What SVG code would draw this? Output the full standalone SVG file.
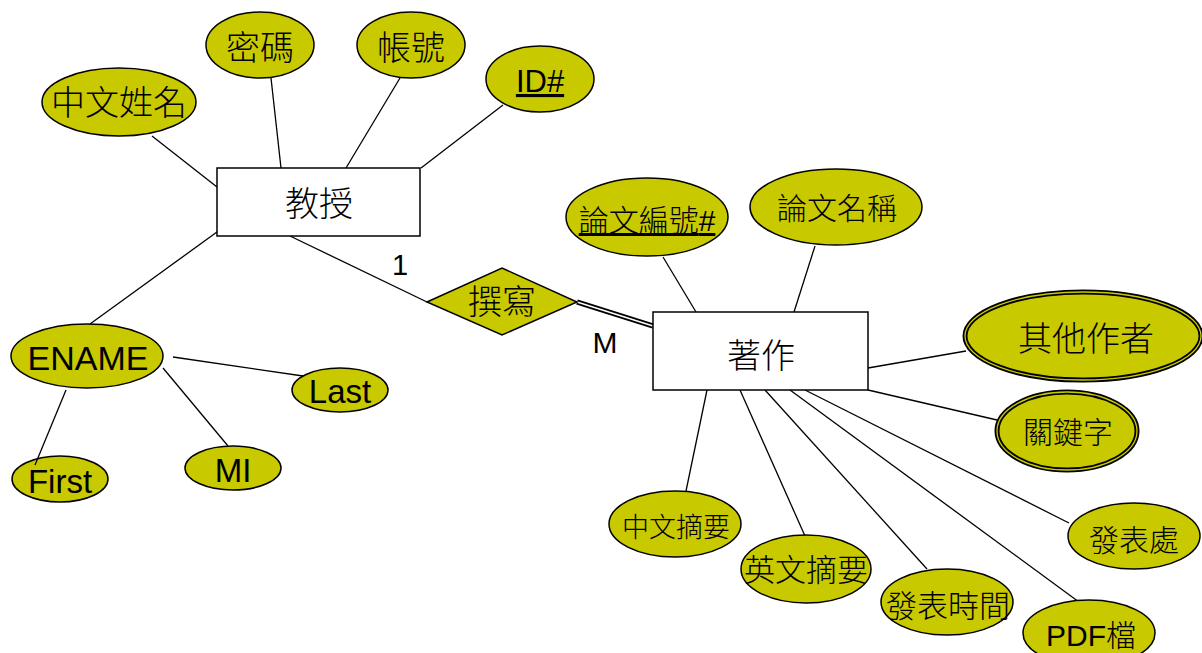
<svg xmlns="http://www.w3.org/2000/svg" width="1202" height="653" viewBox="0 0 1202 653">
<style>
.attr{fill:#c9c900;stroke:#000;stroke-width:1.5}
.ent{fill:#fff;stroke:#000;stroke-width:1.5}
.ln{stroke:#000;stroke-width:1.3;fill:none}
.cj{font-family:"Noto Sans CJK TC","Noto Sans CJK SC",sans-serif;font-weight:300;fill:#000;text-anchor:middle}
.la{font-family:"Liberation Sans",Arial,sans-serif;fill:#000;text-anchor:middle}
.dbl{fill:#c9c900;stroke:#000;stroke-width:5}
.dbli{fill:none;stroke:#c9c900;stroke-width:1.3}
</style>
<rect width="1202" height="653" fill="#fff"/>
<g id="connectors">
<line class="ln" x1="152" y1="136" x2="217" y2="187"/>
<line class="ln" x1="271" y1="78" x2="281" y2="168"/>
<line class="ln" x1="400" y1="78" x2="346" y2="168"/>
<line class="ln" x1="503" y1="105" x2="421" y2="168"/>
<line class="ln" x1="228" y1="224" x2="90" y2="324"/>
<line class="ln" x1="290" y1="236" x2="427" y2="302"/>
<line x1="577" y1="302" x2="653" y2="326" stroke="#000" stroke-width="5"/>
<line x1="577" y1="302" x2="653" y2="326" stroke="#fff" stroke-width="1.4"/>
<line class="ln" x1="663" y1="257" x2="696" y2="312"/>
<line class="ln" x1="815" y1="246" x2="794" y2="312"/>
<line class="ln" x1="868" y1="368" x2="966" y2="351"/>
<line class="ln" x1="868" y1="390" x2="997" y2="420"/>
<line class="ln" x1="707" y1="390" x2="686" y2="491"/>
<line class="ln" x1="740" y1="390" x2="805" y2="536"/>
<line class="ln" x1="765" y1="390" x2="927" y2="569"/>
<line class="ln" x1="790" y1="390" x2="1079" y2="602"/>
<line class="ln" x1="805" y1="390" x2="1069" y2="523"/>
<line class="ln" x1="173" y1="357" x2="303" y2="376"/>
<line class="ln" x1="163" y1="368" x2="228" y2="446"/>
</g>
<g id="n-zhongwen"><ellipse class="attr" cx="119" cy="102" rx="77" ry="34"/><text class="cj" x="119" y="115" font-size="34">中文姓名</text></g>
<g id="n-mima"><ellipse class="attr" cx="260" cy="45" rx="54" ry="33"/><text class="cj" x="260" y="60" font-size="34">密碼</text></g>
<g id="n-zhanghao"><ellipse class="attr" cx="411" cy="45" rx="54" ry="33"/><text class="cj" x="411" y="60" font-size="34">帳號</text></g>
<g id="n-id"><ellipse class="attr" cx="540" cy="79" rx="54" ry="33"/><text class="la" x="540" y="92" font-size="31" text-decoration="underline">ID#</text></g>
<g id="n-jiaoshou"><rect class="ent" x="217" y="168" width="203" height="68"/><text class="cj" x="319" y="216" font-size="34">教授</text></g>
<g id="n-zhuanxie"><polygon class="attr" points="427,302 502,268 577,302 502,335"/><text class="cj" x="502" y="314" font-size="34">撰寫</text></g>
<g id="card-1"><text class="la" x="400" y="275" font-size="29">1</text></g>
<g id="card-m"><text class="la" x="605" y="353" font-size="30">M</text></g>
<g id="n-zhuzuo"><rect class="ent" x="653" y="312" width="215" height="78"/><text class="cj" x="761" y="368" font-size="34">著作</text></g>
<g id="n-bianhao"><ellipse class="attr" cx="647" cy="217" rx="81" ry="39"/><text class="cj" x="647" y="231" font-size="30" text-decoration="underline">論文編號<tspan font-family="Liberation Sans,Arial,sans-serif" font-weight="400">#</tspan></text></g>
<g id="n-mingcheng"><ellipse class="attr" cx="836" cy="207" rx="86" ry="38"/><text class="cj" x="837" y="219" font-size="30">論文名稱</text></g>
<g id="n-qita"><ellipse class="dbl" cx="1083" cy="336" rx="118" ry="44"/><ellipse class="dbli" cx="1083" cy="336" rx="118" ry="44"/><text class="cj" x="1086" y="351" font-size="34">其他作者</text></g>
<g id="n-guanjian"><ellipse class="dbl" cx="1067" cy="431" rx="70" ry="39"/><ellipse class="dbli" cx="1067" cy="431" rx="70" ry="39"/><text class="cj" x="1068" y="443" font-size="30">關鍵字</text></g>
<g id="n-zhongzhai"><ellipse class="attr" cx="675" cy="524" rx="66" ry="33"/><text class="cj" x="676" y="537" font-size="27">中文摘要</text></g>
<g id="n-yingzhai"><ellipse class="attr" cx="806" cy="569" rx="65" ry="34"/><text class="cj" x="806" y="581" font-size="31">英文摘要</text></g>
<g id="n-shijian"><ellipse class="attr" cx="947" cy="602" rx="66" ry="33"/><text class="cj" x="948" y="617" font-size="31">發表時間</text></g>
<g id="n-pdf"><ellipse class="attr" cx="1089" cy="633" rx="66" ry="33"/><text class="la" x="1091" y="646" font-size="30">PDF<tspan font-family="Noto Sans CJK TC,sans-serif" font-weight="300">檔</tspan></text></g>
<g id="n-chu"><ellipse class="attr" cx="1134" cy="536" rx="66" ry="33"/><text class="cj" x="1134" y="551" font-size="30">發表處</text></g>
<g id="n-ename"><ellipse class="attr" cx="87" cy="356" rx="76" ry="32"/><text class="la" x="88" y="370" font-size="34">ENAME</text></g>
<g id="n-last"><ellipse class="attr" cx="340" cy="390" rx="48" ry="22"/><text class="la" x="340" y="403" font-size="33">Last</text></g>
<g id="n-mi"><ellipse class="attr" cx="233" cy="468" rx="48" ry="22"/><text class="la" x="233" y="482" font-size="33">MI</text></g>
<g id="n-first"><ellipse class="attr" cx="60" cy="479" rx="48" ry="23"/><text class="la" x="60" y="493" font-size="33">First</text></g>
<line class="ln" x1="66" y1="390" x2="35" y2="465"/>
</svg>
